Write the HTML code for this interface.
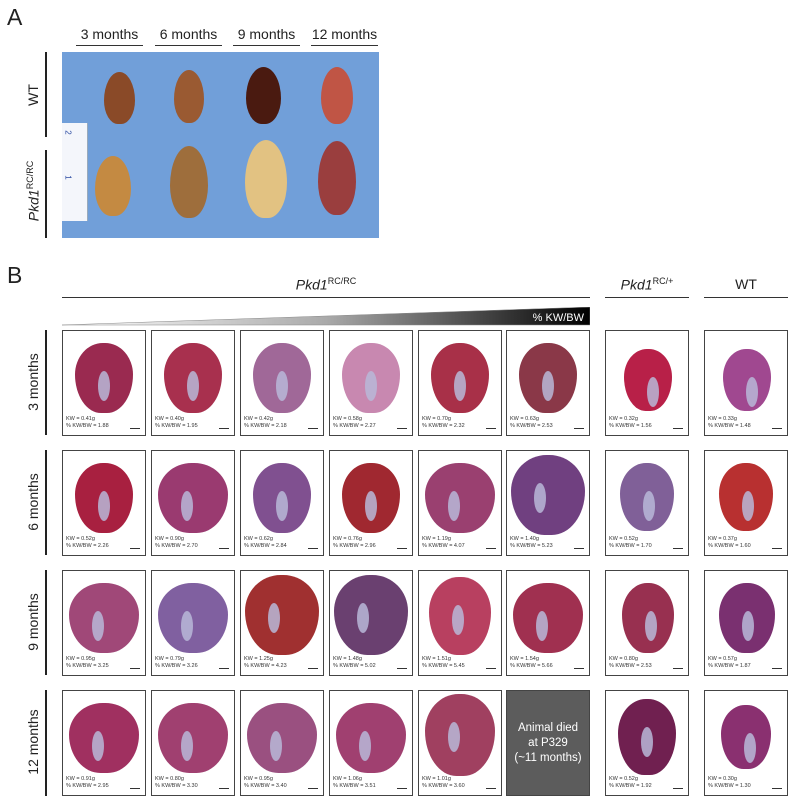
<!DOCTYPE html>
<html><head><meta charset="utf-8"><style>
body{margin:0;width:792px;height:800px;background:#fff;position:relative;overflow:hidden;font-family:"Liberation Sans",sans-serif;color:#222}
div{position:absolute;box-sizing:border-box}
.L{font-size:23px}
.h{font-size:14px;text-align:center;border-bottom:1.5px solid #333;height:20px;line-height:16px}
.rot{transform:rotate(-90deg);transform-origin:center;white-space:nowrap;text-align:center;font-size:14px;width:110px;height:18px}
.vl{width:2px;background:#222}
.b{width:84px;height:106px;border:1.5px solid #444;background:#fff}
.k{left:12px;top:12px;width:58px;height:70px;border-radius:48% 48% 45% 45%/45% 45% 55% 55%}
.k::after{content:"";position:absolute;left:23px;top:28px;width:12px;height:30px;border-radius:50%;background:#b8b8d8;opacity:.85}
.t{left:3px;top:85px;font-size:5.5px;line-height:7px;color:#333;white-space:nowrap}
.s{right:5px;bottom:6px;width:10px;height:1px;background:#333}
.kd{border-radius:50% 50% 45% 45%/55% 55% 45% 45%}
</style></head><body>
<div class="L" style="left:7px;top:4px">A</div>
<div class="h" style="left:76px;top:26px;width:67px">3 months</div>
<div class="h" style="left:155px;top:26px;width:67px">6 months</div>
<div class="h" style="left:233px;top:26px;width:67px">9 months</div>
<div class="h" style="left:311px;top:26px;width:67px">12 months</div>
<div class="vl" style="left:45px;top:52px;height:85px"></div>
<div class="vl" style="left:45px;top:150px;height:88px"></div>
<div class="rot" style="left:-21px;top:86px">WT</div>
<div class="rot" style="left:-21px;top:182px;font-style:italic">Pkd1<sup style="font-size:9px;font-style:normal">RC/RC</sup></div>
<div style="left:62px;top:52px;width:317px;height:186px;background:#719fd9"></div>
<div style="left:62px;top:123px;width:26px;height:98px;background:#f4f6fb;border-right:1px solid #9ab"></div>
<div style="left:66px;top:128px;font-size:8px;color:#2848a0;transform:rotate(90deg)">2</div>
<div style="left:66px;top:173px;font-size:8px;color:#2848a0;transform:rotate(90deg)">1</div>
<div class="kd" style="left:104px;top:72px;width:31px;height:52px;background:#8a4a28"></div>
<div class="kd" style="left:174px;top:70px;width:30px;height:53px;background:#9a5a32"></div>
<div class="kd" style="left:246px;top:67px;width:35px;height:57px;background:#4a1a10"></div>
<div class="kd" style="left:321px;top:67px;width:32px;height:57px;background:#c05545"></div>
<div class="kd" style="left:95px;top:156px;width:36px;height:60px;background:#c48a42"></div>
<div class="kd" style="left:170px;top:146px;width:38px;height:72px;background:#9e6e3c"></div>
<div class="kd" style="left:245px;top:140px;width:42px;height:78px;background:#e2c282"></div>
<div class="kd" style="left:318px;top:141px;width:38px;height:74px;background:#9a3e3e"></div>

<div class="L" style="left:7px;top:262px">B</div>
<div style="left:62px;top:276px;width:528px;height:22px;border-bottom:1.5px solid #333;text-align:center;font-size:14px;font-style:italic">Pkd1<sup style="font-size:9px;font-style:normal">RC/RC</sup></div>
<svg style="position:absolute;left:62px;top:307px" width="528" height="19"><defs><linearGradient id="g"><stop offset="0" stop-color="#fff"/><stop offset="0.5" stop-color="#aaa"/><stop offset="1" stop-color="#000"/></linearGradient></defs><polygon points="0,18 528,0 528,18" fill="url(#g)" stroke="#888" stroke-width="0.5"/><text x="522" y="14" fill="#fff" font-size="11" text-anchor="end" font-family="Liberation Sans">% KW/BW</text></svg>
<div style="left:605px;top:276px;width:84px;height:22px;border-bottom:1.5px solid #333;text-align:center;font-size:14px;font-style:italic">Pkd1<sup style="font-size:9px;font-style:normal">RC/+</sup></div>
<div style="left:704px;top:276px;width:84px;height:22px;border-bottom:1.5px solid #333;text-align:center;font-size:14px">WT</div>

<div class="vl" style="left:45px;top:330px;height:105px"></div>
<div class="vl" style="left:45px;top:450px;height:105px"></div>
<div class="vl" style="left:45px;top:570px;height:105px"></div>
<div class="vl" style="left:45px;top:690px;height:106px"></div>
<div class="rot" style="left:-21px;top:373px">3 months</div>
<div class="rot" style="left:-21px;top:493px">6 months</div>
<div class="rot" style="left:-21px;top:613px">9 months</div>
<div class="rot" style="left:-21px;top:733px">12 months</div>

<!-- row 1 -->
<div class="b" style="left:62px;top:330px"><div class="k" style="background:#9a2a50"></div><div class="t">KW = 0.41g<br>% KW/BW = 1.88</div><div class="s"></div></div>
<div class="b" style="left:151px;top:330px"><div class="k" style="background:#a8304e"></div><div class="t">KW = 0.40g<br>% KW/BW = 1.95</div><div class="s"></div></div>
<div class="b" style="left:240px;top:330px"><div class="k" style="background:#a06898"></div><div class="t">KW = 0.42g<br>% KW/BW = 2.18</div><div class="s"></div></div>
<div class="b" style="left:329px;top:330px"><div class="k" style="background:#c888b0"></div><div class="t">KW = 0.58g<br>% KW/BW = 2.27</div><div class="s"></div></div>
<div class="b" style="left:418px;top:330px"><div class="k" style="background:#a83048"></div><div class="t">KW = 0.70g<br>% KW/BW = 2.32</div><div class="s"></div></div>
<div class="b" style="left:506px;top:330px"><div class="k" style="background:#8a3848"></div><div class="t">KW = 0.63g<br>% KW/BW = 2.53</div><div class="s"></div></div>
<div class="b" style="left:605px;top:330px"><div class="k" style="left:18px;top:18px;width:48px;height:62px;background:#b82048"></div><div class="t">KW = 0.32g<br>% KW/BW = 1.56</div><div class="s"></div></div>
<div class="b" style="left:704px;top:330px"><div class="k" style="left:18px;top:18px;width:48px;height:62px;background:#a04890"></div><div class="t">KW = 0.33g<br>% KW/BW = 1.48</div><div class="s"></div></div>
<!-- row 2 -->
<div class="b" style="left:62px;top:450px"><div class="k" style="background:#a82040"></div><div class="t">KW = 0.52g<br>% KW/BW = 2.26</div><div class="s"></div></div>
<div class="b" style="left:151px;top:450px"><div class="k" style="left:6px;width:70px;background:#9a3a70"></div><div class="t">KW = 0.90g<br>% KW/BW = 2.70</div><div class="s"></div></div>
<div class="b" style="left:240px;top:450px"><div class="k" style="background:#805090"></div><div class="t">KW = 0.62g<br>% KW/BW = 2.84</div><div class="s"></div></div>
<div class="b" style="left:329px;top:450px"><div class="k" style="background:#a02830"></div><div class="t">KW = 0.76g<br>% KW/BW = 2.96</div><div class="s"></div></div>
<div class="b" style="left:418px;top:450px"><div class="k" style="left:6px;width:70px;background:#9a4070"></div><div class="t">KW = 1.19g<br>% KW/BW = 4.07</div><div class="s"></div></div>
<div class="b" style="left:506px;top:450px"><div class="k" style="left:4px;top:4px;width:74px;height:80px;background:#704080"></div><div class="t">KW = 1.40g<br>% KW/BW = 5.23</div><div class="s"></div></div>
<div class="b" style="left:605px;top:450px"><div class="k" style="left:14px;top:12px;width:54px;height:68px;background:#806098"></div><div class="t">KW = 0.52g<br>% KW/BW = 1.70</div><div class="s"></div></div>
<div class="b" style="left:704px;top:450px"><div class="k" style="left:14px;top:12px;width:54px;height:68px;background:#b83030"></div><div class="t">KW = 0.37g<br>% KW/BW = 1.60</div><div class="s"></div></div>
<!-- row 3 -->
<div class="b" style="left:62px;top:570px"><div class="k" style="left:6px;width:70px;background:#a04878"></div><div class="t">KW = 0.95g<br>% KW/BW = 3.25</div><div class="s"></div></div>
<div class="b" style="left:151px;top:570px"><div class="k" style="left:6px;width:70px;background:#8060a0"></div><div class="t">KW = 0.79g<br>% KW/BW = 3.26</div><div class="s"></div></div>
<div class="b" style="left:240px;top:570px"><div class="k" style="left:4px;top:4px;width:74px;height:80px;background:#a03030"></div><div class="t">KW = 1.25g<br>% KW/BW = 4.23</div><div class="s"></div></div>
<div class="b" style="left:329px;top:570px"><div class="k" style="left:4px;top:4px;width:74px;height:80px;background:#6a4070"></div><div class="t">KW = 1.48g<br>% KW/BW = 5.02</div><div class="s"></div></div>
<div class="b" style="left:418px;top:570px"><div class="k" style="left:10px;top:6px;width:62px;height:78px;background:#b84060"></div><div class="t">KW = 1.51g<br>% KW/BW = 5.45</div><div class="s"></div></div>
<div class="b" style="left:506px;top:570px"><div class="k" style="left:6px;width:70px;background:#a03050"></div><div class="t">KW = 1.54g<br>% KW/BW = 5.66</div><div class="s"></div></div>
<div class="b" style="left:605px;top:570px"><div class="k" style="left:16px;width:52px;background:#983050"></div><div class="t">KW = 0.80g<br>% KW/BW = 2.53</div><div class="s"></div></div>
<div class="b" style="left:704px;top:570px"><div class="k" style="left:14px;width:56px;background:#7a3070"></div><div class="t">KW = 0.57g<br>% KW/BW = 1.87</div><div class="s"></div></div>
<!-- row 4 -->
<div class="b" style="left:62px;top:690px"><div class="k" style="left:6px;width:70px;background:#a03060"></div><div class="t">KW = 0.91g<br>% KW/BW = 2.95</div><div class="s"></div></div>
<div class="b" style="left:151px;top:690px"><div class="k" style="left:6px;width:70px;background:#a04070"></div><div class="t">KW = 0.80g<br>% KW/BW = 3.30</div><div class="s"></div></div>
<div class="b" style="left:240px;top:690px"><div class="k" style="left:6px;width:70px;background:#9a5080"></div><div class="t">KW = 0.95g<br>% KW/BW = 3.40</div><div class="s"></div></div>
<div class="b" style="left:329px;top:690px"><div class="k" style="left:6px;width:70px;background:#a04070"></div><div class="t">KW = 1.06g<br>% KW/BW = 3.51</div><div class="s"></div></div>
<div class="b" style="left:418px;top:690px"><div class="k" style="left:6px;top:3px;width:70px;height:82px;background:#a04060"></div><div class="t">KW = 1.01g<br>% KW/BW = 3.60</div><div class="s"></div></div>
<div style="left:506px;top:690px;width:84px;height:106px;background:#5c5c5c;border:1.5px solid #444;color:#fff;font-size:11.5px;line-height:15px;text-align:center;padding-top:30px">Animal died<br>at P329<br>(~11 months)</div>
<div class="b" style="left:605px;top:690px"><div class="k" style="left:12px;top:8px;width:58px;height:76px;background:#702050"></div><div class="t">KW = 0.52g<br>% KW/BW = 1.92</div><div class="s"></div></div>
<div class="b" style="left:704px;top:690px"><div class="k" style="left:16px;top:14px;width:50px;height:64px;background:#8a3070"></div><div class="t">KW = 0.30g<br>% KW/BW = 1.30</div><div class="s"></div></div>
</body></html>
